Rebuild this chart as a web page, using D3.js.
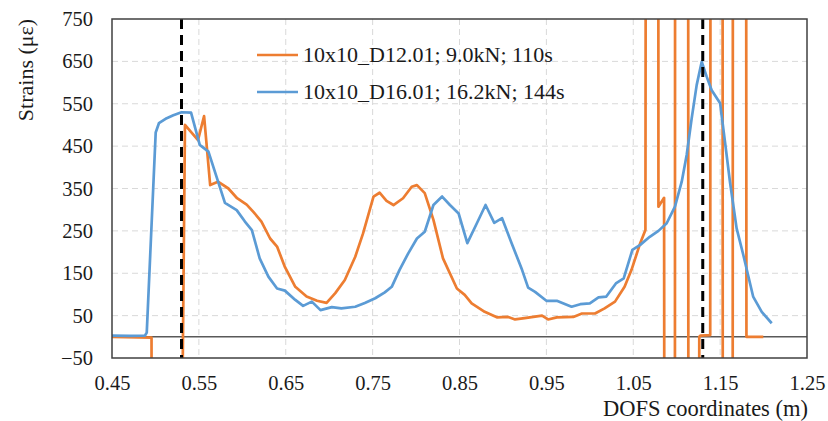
<!DOCTYPE html>
<html>
<head>
<meta charset="utf-8">
<script src="https://cdn.jsdelivr.net/npm/d3@7"></script>
<style>
  body { margin: 0; background: #fff; }
</style>
</head>
<body>
<script>
const width = 828;
const height = 421;
const fontFamily = '"Liberation Serif"';

// tick values
const xTicks = [0.45, 0.55, 0.65, 0.75, 0.85, 0.95, 1.05, 1.15, 1.25];
const yTicks = [-50, 50, 150, 250, 350, 450, 550, 650, 750];

// black dashed markers (m)
const markers = [0.53, 1.13];

// series 1: 10x10_D12.01 (values of +/-3000 are off-scale readings)
const orangePos = [
  0.450, 0.4955, 0.4965, 0.5308, 0.534, 0.549, 0.556, 0.563, 0.572, 0.584,
  0.594, 0.605, 0.6127, 0.622, 0.632, 0.640, 0.649, 0.661, 0.674, 0.686,
  0.697, 0.707, 0.718, 0.730, 0.739, 0.751, 0.758, 0.766, 0.774, 0.785,
  0.795, 0.801, 0.810, 0.820, 0.831, 0.847, 0.856, 0.864, 0.879, 0.893,
  0.906, 0.914, 0.925, 0.935, 0.945, 0.952, 0.962, 0.981, 0.991, 1.006,
  1.017, 1.029, 1.040, 1.048, 1.058, 1.064, 1.0655, 1.0785, 1.0790, 1.0855,
  1.0870, 1.0975, 1.0985, 1.1129, 1.1139, 1.1244, 1.1260, 1.1275, 1.1386, 1.1396,
  1.1525, 1.1535, 1.1640, 1.1650, 1.1793, 1.1803, 1.1997
];
const orangeStrain = [
  0, -2, -3000, -200, 500, 464, 521, 358, 366, 350,
  327, 312, 295, 272, 232, 213, 165, 118, 95, 85,
  80, 103, 134, 189, 244, 331, 340, 321, 311, 327,
  354, 358, 339, 276, 185, 114, 99, 79, 59, 46,
  47, 41, 44, 47, 50, 41, 46, 47, 55, 55,
  67, 83, 118, 158, 221, 252, 3000, 3000, 307, 328,
  -3000, -3000, 3000, 3000, -3000, -3000, 0, 3, 4, 3000,
  3000, -3000, -3000, 3000, 3000, 0, 0
];

// series 2: 10x10_D16.01
const bluePos = [
  0.450, 0.470, 0.488, 0.490, 0.5003, 0.504, 0.513, 0.5206, 0.530, 0.541,
  0.551, 0.561, 0.580, 0.5935, 0.603, 0.611, 0.620, 0.630, 0.640, 0.649,
  0.661, 0.670, 0.680, 0.690, 0.703, 0.714, 0.730, 0.741, 0.753, 0.764,
  0.772, 0.781, 0.791, 0.801, 0.810, 0.820, 0.830, 0.839, 0.849, 0.859,
  0.870, 0.880, 0.890, 0.899, 0.910, 0.922, 0.929, 0.937, 0.950, 0.962,
  0.979, 0.989, 1.000, 1.010, 1.019, 1.030, 1.039, 1.049, 1.058, 1.069,
  1.079, 1.0885, 1.098, 1.1058, 1.1115, 1.1173, 1.123, 1.1288, 1.1345, 1.1403,
  1.150, 1.1556, 1.1613, 1.169, 1.1767, 1.188, 1.1979, 1.2094
];
const blueStrain = [
  3, 2, 3, 10, 482, 504, 516, 523, 530, 529,
  453, 437, 316, 299, 272, 252, 185, 142, 114, 109,
  87, 73, 83, 63, 70, 67, 71, 80, 91, 105,
  118, 158, 197, 232, 248, 311, 331, 311, 291, 221,
  268, 311, 269, 280, 221, 158, 116, 106, 85, 85,
  71, 77, 79, 93, 95, 126, 138, 205, 217, 236,
  250, 268, 307, 366, 429, 516, 594, 649, 614, 582,
  551, 460, 366, 256, 193, 95, 59, 32
];

const seriesNames = ['10x10_D12.01; 9.0kN; 110s', '10x10_D16.01; 16.2kN; 144s'];
const seriesColors = ['#ED7D31', '#5B9BD5'];

function init() {
  const plot = { left: 112, right: 807, top: 19, bottom: 358 };

  const svg = d3.select('body')
    .append('svg')
    .attr('width', width)
    .attr('height', height);

  const x = d3.scaleLinear().domain([0.45, 1.25]).range([plot.left, plot.right]);
  const y = d3.scaleLinear().domain([-50, 750]).range([plot.bottom, plot.top]);

  svg.append('clipPath')
    .attr('id', 'plotClip')
    .append('rect')
    .attr('x', plot.left)
    .attr('y', plot.top)
    .attr('width', plot.right - plot.left)
    .attr('height', plot.bottom - plot.top);

  // grid
  const grid = svg.append('g').attr('class', 'grid');
  grid.selectAll('line.h')
    .data(yTicks.filter(d => d > -50 && d < 750))
    .join('line')
    .attr('class', 'h')
    .attr('x1', plot.left)
    .attr('x2', plot.right)
    .attr('y1', d => y(d))
    .attr('y2', d => y(d))
    .attr('stroke', '#d9d9d9')
    .attr('stroke-width', 1)
    .attr('stroke-dasharray', '6,4');

  grid.selectAll('line.v')
    .data(xTicks.filter(d => d > 0.45 && d < 1.25))
    .join('line')
    .attr('class', 'v')
    .attr('x1', d => x(d))
    .attr('x2', d => x(d))
    .attr('y1', plot.top)
    .attr('y2', plot.bottom)
    .attr('stroke', '#d9d9d9')
    .attr('stroke-width', 1)
    .attr('stroke-dasharray', '6,4');

  // zero line
  svg.append('line')
    .attr('x1', plot.left)
    .attr('x2', plot.right)
    .attr('y1', y(0))
    .attr('y2', y(0))
    .attr('stroke', '#595959')
    .attr('stroke-width', 1.5);

  // axes
  const xAxis = svg.append('g')
    .attr('transform', `translate(0, ${plot.bottom})`)
    .call(d3.axisBottom(x).tickValues(xTicks).tickSize(0).tickPadding(17).tickFormat(d3.format('.2f')));
  xAxis.select('.domain').remove();

  const yAxis = svg.append('g')
    .attr('transform', `translate(${plot.left}, 0)`)
    .call(d3.axisLeft(y).tickValues(yTicks).tickSize(0).tickPadding(19));
  yAxis.select('.domain').remove();

  svg.selectAll('.tick text')
    .attr('font-family', fontFamily)
    .style('font-family', fontFamily)
    .style('font-size', '20.5px')
    .attr('fill', '#1a1a1a');

  // series
  const line = d3.line().x(d => x(d[0])).y(d => y(d[1]));
  const series = [
    d3.zip(orangePos, orangeStrain),
    d3.zip(bluePos, blueStrain)
  ];
  const lines = svg.append('g').attr('clip-path', 'url(#plotClip)');
  lines.selectAll('path')
    .data(series)
    .join('path')
    .attr('d', line)
    .attr('fill', 'none')
    .attr('stroke', (d, i) => seriesColors[i])
    .attr('stroke-width', 2.7)
    .attr('stroke-linejoin', 'round');

  // marker lines
  lines.selectAll('line.marker')
    .data(markers)
    .join('line')
    .attr('class', 'marker')
    .attr('x1', d => x(d))
    .attr('x2', d => x(d))
    .attr('y1', plot.top)
    .attr('y2', plot.bottom)
    .attr('stroke', '#000')
    .attr('stroke-width', 3)
    .attr('stroke-dasharray', '10,6');

  // frame
  svg.append('rect')
    .attr('x', plot.left)
    .attr('y', plot.top)
    .attr('width', plot.right - plot.left)
    .attr('height', plot.bottom - plot.top)
    .attr('fill', 'none')
    .attr('stroke', '#404040')
    .attr('stroke-width', 1.5);

  // legend
  const legend = svg.append('g');
  const item = legend.selectAll('g')
    .data(seriesNames)
    .join('g')
    .attr('transform', (d, i) => `translate(257, ${55 + i * 37})`);
  item.append('line')
    .attr('x1', 0)
    .attr('x2', 41)
    .attr('stroke', (d, i) => seriesColors[i])
    .attr('stroke-width', 2.7);
  item.append('text')
    .attr('x', 46)
    .attr('dy', '0.33em')
    .attr('fill', '#1a1a1a')
    .style('font-family', fontFamily)
    .style('font-size', '22px')
    .text(d => d);

  // titles
  svg.append('text')
    .attr('transform', 'translate(33, 70) rotate(-90)')
    .attr('text-anchor', 'middle')
    .attr('fill', '#1a1a1a')
    .style('font-family', fontFamily)
    .style('font-size', '22px')
    .text('Strains (με)');

  svg.append('text')
    .attr('x', 808)
    .attr('y', 416)
    .attr('text-anchor', 'end')
    .attr('fill', '#1a1a1a')
    .style('font-family', fontFamily)
    .style('font-size', '22.5px')
    .text('DOFS coordinates (m)');
}

init();
</script>
</body>
</html>
